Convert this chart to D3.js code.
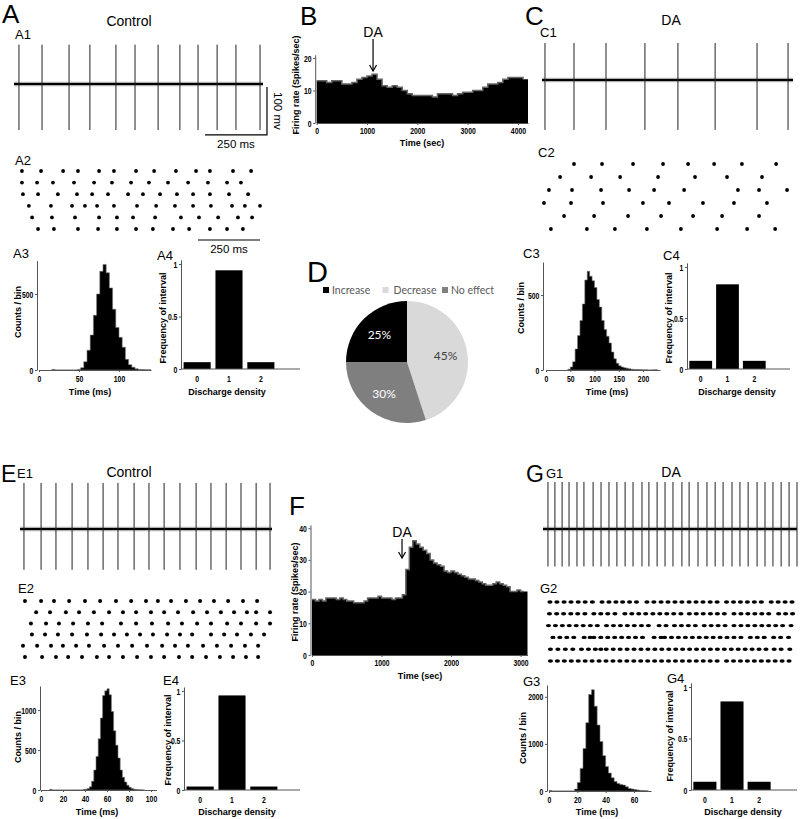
<!DOCTYPE html>
<html>
<head>
<meta charset="utf-8">
<script src="https://cdn.jsdelivr.net/npm/d3@7"></script>
<style>
  body { margin: 0; background: #fff; }
  svg { display: block; }
  .tick text { font-family: "Liberation Sans Narrow", "Arial Narrow", "Liberation Sans", Arial, sans-serif; font-weight: bold; font-size: 9.5px; fill: #000; }
  .domain { stroke: #555; }
  .tick line { stroke: #555; }
</style>
</head>
<body>
<div id="fig"></div>
<script>
// ---- spike times (ms) of the example traces ----
const a1Spikes = [20, 113, 222, 306, 411, 488, 581, 669, 742, 819, 895, 992];
const c1Spikes = [12, 129, 258, 415, 548, 698, 867, 992];
const e1Spikes = [16, 85, 145, 210, 274, 335, 395, 460, 520, 581, 645, 710, 770, 831, 891, 952, 1008];
const g1Spikes = [20, 48, 77, 105, 137, 165, 202, 234, 266, 298, 331, 363, 399, 427, 460, 492, 524, 560,
                  589, 625, 661, 694, 726, 762, 794, 827, 863, 895, 927, 960, 992, 1024];

// ---- rasters (ms, one array per row) ----
const a2Rows = [
  [32, 109, 198, 258, 343, 403, 492, 565, 653, 734, 790, 883, 956],
  [32, 93, 157, 242, 323, 395, 472, 544, 621, 702, 782, 859, 915],
  [36, 97, 177, 254, 315, 379, 460, 520, 589, 657, 722, 790, 867, 944],
  [60, 149, 234, 286, 335, 403, 496, 573, 649, 722, 794, 879, 931, 992],
  [73, 153, 246, 343, 415, 480, 569, 673, 746, 823, 903, 960],
  [97, 161, 258, 339, 415, 492, 560, 641, 706, 790, 859, 923]
];
const c2Rows = [
  [129, 242, 367, 488, 589, 694, 806, 944],
  [73, 198, 315, 468, 617, 746, 887],
  [28, 121, 238, 351, 452, 573, 790, 875, 988],
  [8, 117, 246, 407, 512, 649, 774, 907],
  [89, 210, 347, 480, 609, 726, 875],
  [36, 181, 294, 423, 560, 706, 827, 940]
];
const e2Rows = [
  [20, 85, 137, 198, 262, 323, 387, 448, 508, 556, 609, 669, 726, 782, 839, 899, 956],
  [65, 121, 185, 238, 298, 359, 415, 468, 528, 581, 637, 698, 754, 810, 863, 915, 952, 1008],
  [44, 105, 157, 214, 274, 331, 407, 468, 532, 597, 653, 714, 770, 835, 891, 952, 1008],
  [48, 101, 153, 210, 270, 327, 379, 431, 484, 536, 593, 645, 694, 770, 823, 875, 931, 984],
  [12, 69, 125, 173, 226, 278, 339, 395, 452, 512, 573, 625, 677, 738, 794, 851, 907, 960],
  [20, 89, 145, 194, 250, 310, 359, 415, 472, 528, 581, 641, 694, 750, 806, 859, 911, 960]
];
const g2Rows = [
  [28, 56, 85, 113, 142, 170, 199, 238, 266, 294, 321, 349, 377, 419, 447, 476, 504, 532, 560, 589,
   617, 645, 674, 702, 740, 768, 796, 824, 852, 880, 920, 948, 976, 1004],
  [26, 55, 83, 112, 140, 169, 205, 233, 261, 290, 330, 358, 386, 414, 443, 471, 499, 527, 556, 590,
   618, 646, 675, 703, 731, 770, 798, 826, 854, 882, 910, 950, 978, 1006],
  [22, 50, 78, 106, 134, 162, 191, 219, 256, 284, 312, 340, 368, 397, 425, 468, 496, 530, 558, 586,
   614, 650, 678, 706, 734, 770, 798, 826, 854, 882, 910, 938, 966, 1000],
  [40, 68, 96, 124, 166, 190, 205, 233, 261, 289, 317, 345, 373, 401, 448, 476, 490, 518, 546, 574,
   602, 630, 658, 686, 714, 742, 770, 798, 836, 864, 892, 930, 958, 990],
  [30, 60, 90, 120, 155, 183, 211, 233, 255, 283, 311, 339, 367, 395, 423, 451, 479, 507, 535, 563,
   591, 619, 647, 675, 703, 731, 759, 787, 815, 843, 871, 899, 932, 960, 995],
  [30, 58, 86, 114, 142, 170, 198, 226, 254, 282, 310, 338, 366, 394, 422, 450, 478, 506, 534, 562,
   590, 618, 646, 674, 702, 740, 768, 796, 824, 852, 880, 908, 936, 964, 992]
];

// ---- interspike interval histograms (counts per bin) ----
const a3Start = 16, a3Width = 4;
const a3Counts = [4, 0, 0, 0, 0, 0, 0, 0, 4, 15, 55, 130, 230, 360, 500, 650, 695, 640, 540, 400,
                  280, 215, 150, 70, 35, 18, 8, 4, 3, 2, 1];
const c3Start = 45, c3Width = 5;
const c3Counts = [5, 20, 55, 140, 230, 330, 440, 600, 658, 625, 595, 550, 470, 420, 330, 270, 225, 180,
                  120, 75, 45, 28, 20, 15, 12, 8, 5, 4, 3, 3, 2, 1, 1, 0, 0, 1, 1];
const e3Start = 8, e3Width = 2;
const e3Counts = [8, 0, 0, 0, 0, 0, 0, 0, 0, 0, 0, 0, 0, 0, 0, 5, 10, 20, 40, 110, 250, 420, 640, 900,
                  1180, 1240, 1265, 1190, 980, 740, 560, 400, 250, 160, 100, 60, 35, 20, 10, 5, 3, 2, 1];
const g3Start = 0, g3Width = 2;
const g3Counts = [10, 0, 0, 0, 0, 0, 0, 0, 0, 40, 180, 480, 900, 1450, 2050, 2150, 1800, 1400, 1050, 750,
                  520, 380, 280, 200, 160, 140, 125, 90, 55, 40, 30, 20, 12, 10, 5];

// ---- discharge density (frequency of interval) ----
const densityCats = [0, 1, 2];
const a4Freq = [0.065, 0.94, 0.065];
const c4Freq = [0.08, 0.83, 0.08];
const e4Freq = [0.035, 0.955, 0.035];
const g4Freq = [0.08, 0.86, 0.08];

// ---- firing rate time courses (spikes/sec) ----
const bBinSec = 100;
const bRate = [13, 13, 12.5, 13, 13, 12, 12, 12.5, 13.5, 14, 14.5, 15, 13.5, 11.5, 11, 11.5, 11, 10, 9, 8.5,
               8.5, 8.5, 8.5, 8, 9, 9, 9, 8.5, 9, 9.5, 9.5, 10, 10, 11, 12, 12, 12.5, 13.5, 14, 14, 14, 13.5];
const bDaTime = 1120;
const fBinSec = 50;
const fRate = [17.5, 17, 17.5, 17, 18, 18, 18, 17.5, 18, 17.5, 17, 17, 16.5, 16.5, 16.5, 17, 18, 18, 18, 18.5,
               18, 18, 18, 17.5, 18, 18, 19, 27, 34, 36, 35, 34, 33, 32, 30, 29, 28.5, 28, 26.5, 26,
               26.5, 26, 25.5, 25, 24.5, 24, 24, 23.5, 23, 22.5, 22, 22, 22.5, 23, 22.5, 22, 21.5, 20, 20, 20.5,
               20, 20];
const fDaTime = 1295;

// ---- pie ----
const pieCats = ["Increase", "Decrease", "No effect"];
const pieVals = [25, 45, 30];
const pieColors = ["#000000", "#d9d9d9", "#7f7f7f"];

const SANS = "'Liberation Sans', Arial, Helvetica, sans-serif";

const svg = d3.select("#fig").append("svg").attr("width", 800).attr("height", 819);

function text(x, y, t, size, opt = {}) {
  const el = svg.append("text")
    .attr("x", x).attr("y", y)
    .attr("font-family", opt.family || SANS)
    .attr("font-size", size)
    .attr("font-weight", opt.bold ? "bold" : "normal")
    .attr("text-anchor", opt.anchor || "start")
    .attr("fill", opt.fill || "#000")
    .text(t);
  if (opt.rotate) el.attr("transform", `rotate(${opt.rotate},${x},${y})`);
  return el;
}

// condensed look of the tick labels
function squeeze(g) {
  g.selectAll(".tick text").attr("transform", "scale(0.72,1)");
  return g;
}

function drawTrace(spikes, tMax, x0, x1, baseY, up, down) {
  const x = d3.scaleLinear().domain([0, tMax]).range([x0, x1]);
  const y = d3.scaleLinear().domain([-100, 100]).range([baseY + 48, baseY - 48]);
  const g = svg.append("g");
  g.append("line")
    .attr("x1", x(0)).attr("x2", x(tMax)).attr("y1", y(0)).attr("y2", y(0))
    .attr("stroke", "#000").attr("stroke-opacity", 0.3).attr("stroke-width", 4.5);
  g.append("line")
    .attr("x1", x(0)).attr("x2", x(tMax)).attr("y1", y(0)).attr("y2", y(0))
    .attr("stroke", "#000").attr("stroke-width", 2.2);
  g.selectAll("line.spike")
    .data(spikes)
    .join("line")
    .attr("class", "spike")
    .attr("x1", d => x(d)).attr("x2", d => x(d))
    .attr("y1", y(up)).attr("y2", y(down))
    .attr("stroke", "#222").attr("stroke-width", 1);
  return { x, y };
}

function drawRaster(rows, x, yTop, yBot, rx, ry) {
  const y = d3.scalePoint().domain(d3.range(rows.length)).range([yTop, yBot]);
  const g = svg.append("g");
  rows.forEach((row, r) => {
    g.selectAll(null)
      .data(row)
      .join("ellipse")
      .attr("cx", d => x(d)).attr("cy", y(r))
      .attr("rx", rx).attr("ry", ry)
      .attr("fill", "#000");
  });
}

function drawHist(c) {
  const x = d3.scaleLinear().domain(c.xDom).range(c.xRange);
  const y = d3.scaleLinear().domain(c.yDom).range(c.yRange);
  const pts = c.counts.map((v, i) => ({ t: c.start + i * c.width, v }));
  pts.push({ t: c.start + c.counts.length * c.width, v: 0 });
  const area = d3.area().curve(d3.curveStepAfter)
    .x(d => x(d.t)).y0(y(0)).y1(d => y(d.v));
  svg.append("path").datum(pts).attr("d", area)
    .attr("fill", "#000").attr("stroke", "#777").attr("stroke-width", 0.6);
  svg.append("g").attr("transform", `translate(${c.axisY},0)`)
    .call(d3.axisLeft(y).tickValues(c.yTicks).tickFormat(d => d).tickSize(2).tickSizeOuter(0).tickPadding(3))
    .call(squeeze);
  svg.append("g").attr("transform", `translate(0,${y(0)})`)
    .call(d3.axisBottom(x).tickValues(c.xTicks).tickFormat(d => d).tickSize(2).tickSizeOuter(0).tickPadding(3))
    .call(squeeze);
  return { x, y };
}

function drawBars(vals, xRange, axisEnd, yRange) {
  const x = d3.scaleBand().domain(densityCats).range(xRange).paddingInner(0.15).paddingOuter(0.05);
  const y = d3.scaleLinear().domain([0, 1.04]).range(yRange);
  svg.append("g").selectAll("rect")
    .data(vals)
    .join("rect")
    .attr("x", (d, i) => x(densityCats[i]))
    .attr("width", x.bandwidth())
    .attr("y", d => y(d))
    .attr("height", d => y(0) - y(d))
    .attr("fill", "#000");
  svg.append("g").attr("transform", `translate(${xRange[0] - 1},0)`)
    .call(d3.axisLeft(y).tickValues([0, 0.5, 1]).tickFormat(d => d).tickSize(2).tickSizeOuter(0).tickPadding(3))
    .call(squeeze);
  const xa = svg.append("g").attr("transform", `translate(0,${y(0)})`)
    .call(d3.axisBottom(x).tickSize(0).tickPadding(6))
    .call(squeeze);
  xa.select(".domain").remove();
  svg.append("line").attr("x1", xRange[0] - 1).attr("x2", axisEnd)
    .attr("y1", y(0)).attr("y2", y(0)).attr("stroke", "#555");
}

function drawRate(rate, binSec, xDom, xRange, yDom, yRange, xTicks, yTicks) {
  const x = d3.scaleLinear().domain(xDom).range(xRange);
  const y = d3.scaleLinear().domain(yDom).range(yRange);
  const pts = rate.map((v, i) => ({ t: i * binSec, v }));
  pts.push({ t: rate.length * binSec, v: 0 });
  const area = d3.area().curve(d3.curveStepAfter)
    .x(d => x(d.t)).y0(y(0)).y1(d => y(d.v));
  svg.append("path").datum(pts).attr("d", area).attr("fill", "#000");
  const line = d3.line().curve(d3.curveStepAfter).x(d => x(d.t)).y(d => y(d.v));
  svg.append("path").datum(pts.slice(0, -1)).attr("d", line)
    .attr("fill", "none").attr("stroke", "#666").attr("stroke-width", 1.5);
  svg.append("g").attr("transform", `translate(${x(0) - 1.5},0)`)
    .call(d3.axisLeft(y).tickValues(yTicks).tickFormat(d => d).tickSize(2).tickSizeOuter(0).tickPadding(3))
    .call(squeeze);
  svg.append("g").attr("transform", `translate(0,${y(0)})`)
    .call(d3.axisBottom(x).tickValues(xTicks).tickFormat(d => d).tickSize(2).tickSizeOuter(0).tickPadding(2))
    .call(squeeze);
  return { x, y };
}

function daArrow(x, yText, y0, y1) {
  text(x, yText, "DA", 14, { anchor: "middle" });
  svg.append("line").attr("x1", x).attr("x2", x).attr("y1", y0).attr("y2", y1)
    .attr("stroke", "#000").attr("stroke-width", 1.2);
  svg.append("path").attr("d", `M${x - 3.5},${y1 - 6}L${x},${y1}L${x + 3.5},${y1 - 6}`)
    .attr("fill", "none").attr("stroke", "#000").attr("stroke-width", 1.2);
}

const TS = 9; // axis title size

// ================= A =================
text(2, 23, "A", 26);
text(129, 26, "Control", 14, { anchor: "middle" });
text(15, 39, "A1", 13);
const a1 = drawTrace(a1Spikes, 1004, 14, 263, 84, 82, -96);
// scale bars
svg.append("path")
  .attr("d", `M${a1.x(770)},${a1.y(-106)}H${a1.x(1020)}V${a1.y(-6)}`)
  .attr("fill", "none").attr("stroke", "#000").attr("stroke-width", 1.2);
text(a1.x(895), 148, "250 ms", 11.5, { anchor: "middle" });
text(274, a1.y(-56), "100 mv", 11.5, { anchor: "middle", rotate: 90 });

text(15, 165, "A2", 13);
drawRaster(a2Rows, a1.x, 171, 229, 1.9, 1.9);
svg.append("line").attr("x1", a1.x(742)).attr("x2", a1.x(992)).attr("y1", 240).attr("y2", 240)
  .attr("stroke", "#000").attr("stroke-width", 1.2);
text(a1.x(867), 253, "250 ms", 11.5, { anchor: "middle" });

text(13, 258, "A3", 13);
drawHist({ counts: a3Counts, start: a3Start, width: a3Width, xDom: [0, 140], xRange: [39, 151],
  yDom: [0, 720], yRange: [370, 260.6], xTicks: [0, 50, 100], yTicks: [0, 500], axisY: 37 });
text(20.5, 312, "Counts / bin", TS, { anchor: "middle", rotate: -90, bold: true });
text(90, 395, "Time (ms)", TS, { anchor: "middle", bold: true });

text(157, 260, "A4", 13);
drawBars(a4Freq, [182, 276], 300, [369, 259.8]);
text(165.5, 318, "Frequency of interval", TS, { anchor: "middle", rotate: -90, bold: true });
text(227, 395, "Discharge density", TS, { anchor: "middle", bold: true });

// ================= B =================
text(300, 25, "B", 26);
const b = drawRate(bRate, bBinSec, [0, 4200], [316.7, 528], [0, 21], [123, 54.75],
  [0, 1000, 2000, 3000, 4000], [0, 10, 20]);
daArrow(b.x(bDaTime), 37, 39, 71);
text(298.5, 85, "Firing rate (Spikes/sec)", TS, { anchor: "middle", rotate: -90, bold: true });
text(422, 146, "Time (sec)", TS, { anchor: "middle", bold: true });

// ================= C =================
text(525, 25, "C", 26);
text(671, 25, "DA", 14, { anchor: "middle" });
text(540, 37, "C1", 13);
const c1 = drawTrace(c1Spikes, 1012, 542, 793, 80, 77, -104);
text(538, 157, "C2", 13);
drawRaster(c2Rows, c1.x, 164, 229, 1.9, 1.9);

text(523, 258, "C3", 13);
drawHist({ counts: c3Counts, start: c3Start, width: c3Width, xDom: [0, 235], xRange: [546, 660],
  yDom: [0, 720], yRange: [370, 262], xTicks: [0, 50, 100, 150, 200], yTicks: [0, 500], axisY: 543 });
text(523.5, 308, "Counts / bin", TS, { anchor: "middle", rotate: -90, bold: true });
text(607, 395, "Time (ms)", TS, { anchor: "middle", bold: true });

text(663, 260, "C4", 13);
drawBars(c4Freq, [688, 767], 790, [369, 262.9]);
text(671.5, 318, "Frequency of interval", TS, { anchor: "middle", rotate: -90, bold: true });
text(737, 395, "Discharge density", TS, { anchor: "middle", bold: true });

// ================= D =================
text(307, 282, "D", 29);
const legX = d3.scalePoint().domain(pieCats).range([323, 442]);
const leg = svg.append("g").selectAll("g").data(pieCats).join("g")
  .attr("transform", d => `translate(${legX(d)},290)`);
leg.append("rect").attr("x", 0).attr("y", -3).attr("width", 6).attr("height", 6)
  .attr("fill", (d, i) => pieColors[i]);
leg.append("text").attr("x", (d, i) => i === 1 ? 11 : 9).attr("y", 3.8)
  .attr("font-family", "Lato, 'Open Sans', sans-serif").attr("font-size", 10.5)
  .attr("fill", "#595959").text(d => d);

const pieR = 61;
const pie = d3.pie().sort(null).startAngle(-Math.PI / 2).endAngle(1.5 * Math.PI);
const arcs = pie(pieVals);
const arc = d3.arc().innerRadius(0).outerRadius(pieR);
const labelArc = d3.arc().innerRadius(pieR * 0.64).outerRadius(pieR * 0.64);
const pieG = svg.append("g").attr("transform", "translate(407,362)");
pieG.selectAll("path").data(arcs).join("path")
  .attr("d", arc).attr("fill", (d, i) => pieColors[i]);
pieG.selectAll("text").data(arcs).join("text")
  .attr("transform", d => `translate(${labelArc.centroid(d)})`)
  .attr("text-anchor", "middle").attr("dy", "0.35em")
  .attr("font-family", "Lato, 'Open Sans', sans-serif").attr("font-size", 12)
  .attr("fill", (d, i) => i === 1 ? "#404040" : "#fff")
  .text(d => d.data + "%");

// ================= E =================
text(1, 482, "E", 23);
text(129, 477, "Control", 14, { anchor: "middle" });
text(17, 478, "E1", 13);
const e1 = drawTrace(e1Spikes, 1016, 20, 272, 529, 96, -85);
text(18, 593, "E2", 13);
drawRaster(e2Rows, e1.x, 601, 657, 2, 2);

text(10, 685, "E3", 13);
drawHist({ counts: e3Counts, start: e3Start, width: e3Width, xDom: [0, 105], xRange: [41, 156.5],
  yDom: [0, 1300], yRange: [790, 686], xTicks: [0, 20, 40, 60, 80, 100], yTicks: [0, 500, 1000], axisY: 40 });
text(20.5, 737, "Counts / bin", TS, { anchor: "middle", rotate: -90, bold: true });
text(97, 815, "Time (ms)", TS, { anchor: "middle", bold: true });

text(163, 685, "E4", 13);
drawBars(e4Freq, [185, 279], 300, [790, 687]);
text(170.5, 740, "Frequency of interval", TS, { anchor: "middle", rotate: -90, bold: true });
text(237, 815, "Discharge density", TS, { anchor: "middle", bold: true });

// ================= F =================
text(289, 515, "F", 26);
const f = drawRate(fRate, fBinSec, [0, 3100], [312, 527.5], [0, 41], [655, 525],
  [0, 1000, 2000, 3000], [0, 10, 20, 30, 40]);
daArrow(f.x(fDaTime), 537, 539, 558);
text(298, 592, "Firing rate (Spikes/sec)", TS, { anchor: "middle", rotate: -90, bold: true });
text(420, 679, "Time (sec)", TS, { anchor: "middle", bold: true });

// ================= G =================
text(526, 482, "G", 23);
text(671, 477, "DA", 14, { anchor: "middle" });
text(546, 478, "G1", 13);
const g1 = drawTrace(g1Spikes, 1024, 543, 797, 529, 98, -78);
text(540, 593, "G2", 13);
drawRaster(g2Rows, g1.x, 602, 661, 2.6, 1.7);

text(523, 686, "G3", 13);
drawHist({ counts: g3Counts, start: g3Start, width: g3Width, xDom: [0, 72], xRange: [549, 651],
  yDom: [0, 2250], yRange: [791, 685], xTicks: [0, 20, 40, 60], yTicks: [0, 1000, 2000], axisY: 547 });
text(526, 738, "Counts / bin", TS, { anchor: "middle", rotate: -90, bold: true });
text(597, 815, "Time (ms)", TS, { anchor: "middle", bold: true });

text(667, 683, "G4", 13);
drawBars(g4Freq, [692, 772], 797, [790, 682.9]);
text(672.5, 736, "Frequency of interval", TS, { anchor: "middle", rotate: -90, bold: true });
text(743, 815, "Discharge density", TS, { anchor: "middle", bold: true });
</script>
</body>
</html>
